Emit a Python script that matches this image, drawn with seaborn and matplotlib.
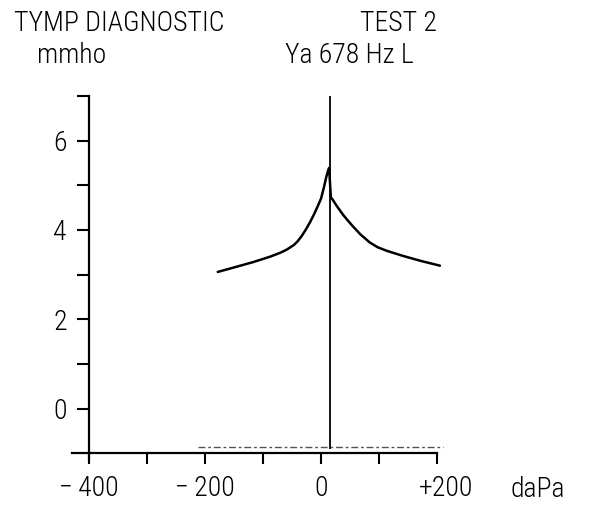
import numpy as np
import pandas as pd
import matplotlib
matplotlib.use("Agg")
import matplotlib.pyplot as plt
import matplotlib.transforms as mtransforms
import seaborn as sns

# tympanogram trace (pressure in daPa, admittance in mmho)
pressure = [-178, -150, -117, -88, -70, -59, -47, -40, -33, -27, -19, -12, -6, 0, 5, 9, 12, 14,
            17, 19, 23, 27, 38, 45, 55, 68, 84, 98, 114, 141, 171, 205]
admittance = [3.06, 3.16, 3.28, 3.40, 3.49, 3.56, 3.66, 3.75, 3.87, 3.99, 4.17, 4.35, 4.52,
              4.70, 4.95, 5.18, 5.32, 5.39,
              4.72, 4.70, 4.62, 4.54, 4.34, 4.23, 4.08, 3.90, 3.72, 3.61, 3.53, 3.42,
              3.31, 3.20]

# faint baseline trace at the bottom of the chart
base_x = [-212, 210]
base_y = [-0.87, -0.87]

# vertical cursor line
cursor_x = 16
cursor_y = [-0.9, 7.0]

x_ticks = [-400, -300, -200, -100, 0, 100, 200]
x_labels = ["\u2212\u2009400", "", "\u2212\u2009200", "", "0", "", "+200"]
y_ticks = [0, 1, 2, 3, 4, 5, 6, 7]
y_labels = ["0", "", "2", "", "4", "", "6", ""]

sns.set_style("white")
plt.rcParams['font.family'] = ['Roboto Condensed', 'DejaVu Sans']
plt.rcParams['font.weight'] = 'light'

W, H = 589, 509
fig = plt.figure(figsize=(W / 100, H / 100), dpi=100)
ax = fig.add_axes([60 / W, 1 - 475.6 / H, 406 / W, 402 / H])

df = pd.DataFrame({"daPa": pressure, "mmho": admittance})
sns.lineplot(data=df, x="daPa", y="mmho", sort=False, estimator=None,
             color="black", linewidth=1.8, ax=ax)
sns.lineplot(x=base_x, y=base_y, color="#555555", linewidth=1.0,
             linestyle=(0, (5, 2, 2, 2)), ax=ax)
ax.vlines(cursor_x, cursor_y[0], cursor_y[1], color="black", linewidth=1.3)

ax.set_xlim(-450, 250)
ax.set_ylim(-1.5, 7.5)

for s in ["top", "right"]:
    ax.spines[s].set_visible(False)
ax.spines["left"].set_position(("data", -400))
ax.spines["left"].set_bounds(-1.15, 7)
ax.spines["bottom"].set_position(("data", -1))
ax.spines["bottom"].set_bounds(-430, 200)
for s in ["left", "bottom"]:
    ax.spines[s].set_color("black")
    ax.spines[s].set_linewidth(1.6)

ax.set_xticks(x_ticks)
ax.set_xticklabels(x_labels)
ax.set_yticks(y_ticks)
ax.set_yticklabels(y_labels)
ax.tick_params(axis="x", direction="out", length=8, width=1.5, pad=8,
               labelsize=20, bottom=True, color="black", labelcolor="black")
ax.tick_params(axis="y", direction="out", length=9, width=1.5, pad=7,
               labelsize=20, left=True, color="black", labelcolor="black")
ax.set_xlabel("")
ax.set_ylabel("")

# "+200" sits a little right of its tick in the original
plus_lbl = ax.get_xticklabels()[-1]
plus_lbl.set_transform(plus_lbl.get_transform()
                       + mtransforms.ScaledTranslation(9 / 100, 0, fig.dpi_scale_trans))

txt = dict(fontsize=20, va="baseline", color="black")
fig.text(14 / W, 1 - 31 / H, "TYMP DIAGNOSTIC", ha="left", **txt)
fig.text(37 / W, 1 - 63 / H, "mmho", ha="left", **txt)
fig.text(437 / W, 1 - 31 / H, "TEST 2", ha="right", **txt)
fig.text(285 / W, 1 - 63 / H, "Ya 678 Hz L", ha="left", **txt)
fig.text(510 / W, 1 - 497 / H, "daPa", ha="left", **txt)

fig.savefig("out.png", dpi=100)
